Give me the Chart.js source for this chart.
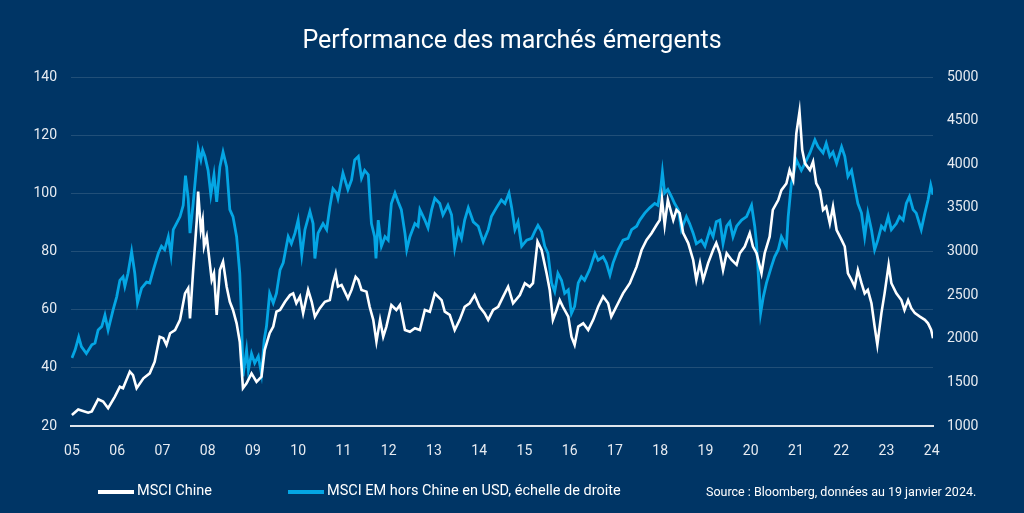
<!DOCTYPE html>
<html lang="fr">
<head>
<meta charset="utf-8">
<title>Performance des marchés émergents</title>
<script src="https://cdn.jsdelivr.net/npm/chart.js@4.4.1/dist/chart.umd.min.js"></script>
<style>
  html, body { margin: 0; padding: 0; background: #003565; }
  #wrap { position: relative; width: 1024px; height: 513px; overflow: hidden; font-family: Roboto, "Noto Sans", sans-serif; }
  #chart { position: absolute; left: 0; top: 0; }
  .title { position: absolute; left: 0; top: 24px; width: 1024px; text-align: center; color: #fff; font-size: 25px; line-height: 32px; font-weight: 400; }
  .legend { position: absolute; top: 482px; color: #fff; font-size: 14.5px; line-height: 18px; white-space: nowrap; }
  .swatch { position: absolute; top: 490px; height: 4px; width: 36px; }
  .source { position: absolute; top: 484px; left: 706px; color: #fff; font-size: 12.5px; line-height: 16px; white-space: nowrap; }
</style>
</head>
<body>
<div id="wrap">
  <canvas id="chart" width="1024" height="513"></canvas>
  <div class="title">Performance des marchés émergents</div>
  <div class="swatch" style="left:98px;background:#ffffff"></div>
  <div class="legend" style="left:137px">MSCI Chine</div>
  <div class="swatch" style="left:288px;background:#04a6e4"></div>
  <div class="legend" style="left:327px">MSCI EM hors Chine en USD, échelle de droite</div>
  <div class="source">Source : Bloomberg, données au 19 janvier 2024.</div>
</div>
<script>
// x ticks (years)
const yearTicks = [2005, 2006, 2007, 2008, 2009, 2010, 2011, 2012, 2013, 2014, 2015, 2016, 2017, 2018, 2019, 2020, 2021, 2022, 2023, 2024];

// MSCI Chine (left axis)
const chinaYears = [
  2005.00, 2005.14, 2005.36, 2005.44, 2005.58, 2005.69, 2005.80, 2005.95, 2006.06, 2006.13,
  2006.28, 2006.35, 2006.43, 2006.58, 2006.72, 2006.83, 2006.94, 2007.02, 2007.09, 2007.17,
  2007.28, 2007.39, 2007.50, 2007.57, 2007.61, 2007.68, 2007.76, 2007.79, 2007.85, 2007.89,
  2007.92, 2007.98, 2008.09, 2008.14, 2008.20, 2008.27, 2008.34, 2008.42, 2008.49, 2008.56,
  2008.64, 2008.71, 2008.78, 2008.86, 2008.97, 2009.08, 2009.19, 2009.26, 2009.37, 2009.45,
  2009.52, 2009.60, 2009.71, 2009.82, 2009.89, 2009.96, 2010.04, 2010.11, 2010.22, 2010.30,
  2010.37, 2010.48, 2010.59, 2010.70, 2010.77, 2010.83, 2010.88, 2010.96, 2011.03, 2011.10,
  2011.18, 2011.27, 2011.33, 2011.40, 2011.51, 2011.58, 2011.66, 2011.73, 2011.81, 2011.88,
  2011.95, 2012.06, 2012.17, 2012.25, 2012.36, 2012.47, 2012.58, 2012.69, 2012.80, 2012.91,
  2013.02, 2013.17, 2013.24, 2013.35, 2013.46, 2013.57, 2013.68, 2013.79, 2013.90, 2014.01,
  2014.12, 2014.20, 2014.31, 2014.42, 2014.53, 2014.64, 2014.75, 2014.90, 2015.01, 2015.12,
  2015.19, 2015.29, 2015.38, 2015.49, 2015.56, 2015.63, 2015.71, 2015.78, 2015.85, 2015.97,
  2016.04, 2016.11, 2016.19, 2016.30, 2016.41, 2016.52, 2016.63, 2016.74, 2016.85, 2016.92,
  2017.07, 2017.18, 2017.33, 2017.48, 2017.59, 2017.70, 2017.81, 2017.92, 2017.99, 2018.04,
  2018.10, 2018.17, 2018.29, 2018.36, 2018.43, 2018.51, 2018.62, 2018.73, 2018.80, 2018.88,
  2018.95, 2019.06, 2019.17, 2019.24, 2019.32, 2019.39, 2019.47, 2019.58, 2019.69, 2019.76,
  2019.87, 2019.98, 2020.05, 2020.13, 2020.24, 2020.31, 2020.42, 2020.49, 2020.61, 2020.68,
  2020.79, 2020.86, 2020.94, 2021.01, 2021.08, 2021.14, 2021.20, 2021.31, 2021.38, 2021.45,
  2021.53, 2021.60, 2021.67, 2021.75, 2021.82, 2021.90, 2022.01, 2022.08, 2022.15, 2022.23,
  2022.30, 2022.37, 2022.45, 2022.52, 2022.59, 2022.67, 2022.74, 2022.80, 2022.89, 2022.96,
  2023.05, 2023.11, 2023.22, 2023.33, 2023.40, 2023.48, 2023.55, 2023.63, 2023.74, 2023.85,
  2023.92, 2023.99, 2024.03
];
const chinaValues = [
  23.8, 25.7, 24.6, 25, 29.2, 28.4, 26.1, 30.1, 33.5, 33,
  38.7, 37.5, 33, 36.4, 38.1, 42.1, 50.7, 50.2, 47.9, 51.9,
  53, 56.5, 65.6, 67.4, 57, 73.6, 90.8, 100.6, 87.4, 90.8,
  81.7, 85.1, 70.2, 72.5, 58.2, 73.6, 76.5, 67.9, 62.7, 59.9,
  55.3, 49, 33, 34.7, 38.1, 35.2, 37, 46.1, 51.9, 54.2,
  59.3, 59.9, 62.7, 65, 65.6, 62.2, 64.5, 58.8, 66.8, 62.7,
  57.6, 60.5, 62.7, 63.3, 69.1, 72.5, 67.9, 68.5, 66.2, 63.9,
  66.8, 71.3, 70.2, 66.8, 66.2, 61, 56.5, 49, 56.5, 50.7,
  54.2, 61.6, 59.9, 61.6, 53, 52.4, 53.6, 53, 59.9, 59.3,
  65.6, 63.3, 59.3, 58.2, 53, 56.5, 61, 62.2, 65, 61,
  58.8, 56.5, 59.9, 61, 64.5, 67.9, 62.2, 65, 69.1, 67.9,
  69.1, 83.4, 80.5, 72.5, 66.8, 56.5, 59.9, 63.3, 61, 57.6,
  50.7, 47.9, 54.2, 55.3, 53, 56.5, 61, 64.5, 62.2, 57.6,
  62.2, 65.6, 69.1, 74.8, 80.5, 84, 86.3, 89.1, 90.8, 98,
  89.1, 97.7, 90.8, 94.3, 93.2, 86.3, 82.9, 77.1, 70.2, 76,
  70.2, 76, 80.5, 82.9, 79.4, 73.6, 79.4, 77.1, 75.4, 79.4,
  81.7, 86.3, 81.7, 79.4, 72.5, 79.4, 85.1, 94.3, 97.7, 101.1,
  103.4, 108, 104.6, 120.6, 128.1, 114.9, 110.3, 108, 110.9, 103.4,
  101.1, 94.3, 95.4, 89.7, 95.4, 87.4, 84, 81.7, 72.5, 70.2,
  67.9, 73.6, 69.1, 65.6, 66.8, 62.2, 54.2, 47.9, 58.8, 65.6,
  75.4, 69.1, 65.6, 63.3, 59.9, 63.3, 60.5, 58.8, 57.6, 56.5,
  55.3, 53, 50.2
];

// MSCI EM hors Chine en USD (right axis)
const emYears = [
  2005.00, 2005.07, 2005.15, 2005.21, 2005.32, 2005.44, 2005.51, 2005.58, 2005.66, 2005.73,
  2005.80, 2005.91, 2005.99, 2006.06, 2006.13, 2006.17, 2006.24, 2006.32, 2006.39, 2006.45,
  2006.54, 2006.65, 2006.72, 2006.80, 2006.91, 2006.98, 2007.05, 2007.13, 2007.19, 2007.24,
  2007.31, 2007.39, 2007.46, 2007.51, 2007.57, 2007.61, 2007.68, 2007.76, 2007.79, 2007.85,
  2007.89, 2007.94, 2008.01, 2008.07, 2008.14, 2008.20, 2008.27, 2008.34, 2008.42, 2008.49,
  2008.56, 2008.64, 2008.71, 2008.75, 2008.78, 2008.86, 2008.90, 2008.97, 2009.04, 2009.12,
  2009.19, 2009.25, 2009.30, 2009.37, 2009.45, 2009.52, 2009.60, 2009.67, 2009.71, 2009.78,
  2009.85, 2009.93, 2010.00, 2010.08, 2010.15, 2010.26, 2010.33, 2010.37, 2010.44, 2010.55,
  2010.63, 2010.70, 2010.77, 2010.85, 2010.88, 2010.99, 2011.10, 2011.18, 2011.25, 2011.33,
  2011.40, 2011.47, 2011.55, 2011.58, 2011.62, 2011.69, 2011.72, 2011.77, 2011.84, 2011.92,
  2011.99, 2012.06, 2012.14, 2012.21, 2012.28, 2012.36, 2012.40, 2012.47, 2012.58, 2012.65,
  2012.69, 2012.80, 2012.87, 2012.95, 2013.02, 2013.13, 2013.20, 2013.31, 2013.39, 2013.46,
  2013.54, 2013.61, 2013.68, 2013.76, 2013.87, 2013.98, 2014.09, 2014.20, 2014.27, 2014.38,
  2014.49, 2014.57, 2014.66, 2014.72, 2014.79, 2014.86, 2014.94, 2015.05, 2015.16, 2015.23,
  2015.30, 2015.38, 2015.45, 2015.52, 2015.60, 2015.67, 2015.74, 2015.82, 2015.89, 2015.97,
  2016.04, 2016.11, 2016.19, 2016.26, 2016.33, 2016.44, 2016.56, 2016.63, 2016.74, 2016.81,
  2016.89, 2016.96, 2017.07, 2017.18, 2017.29, 2017.37, 2017.48, 2017.55, 2017.66, 2017.77,
  2017.88, 2017.95, 2018.01, 2018.05, 2018.10, 2018.17, 2018.25, 2018.32, 2018.40, 2018.47,
  2018.58, 2018.65, 2018.73, 2018.80, 2018.91, 2018.99, 2019.10, 2019.17, 2019.24, 2019.32,
  2019.39, 2019.47, 2019.54, 2019.61, 2019.69, 2019.80, 2019.91, 2020.02, 2020.09, 2020.13,
  2020.18, 2020.22, 2020.28, 2020.35, 2020.46, 2020.53, 2020.61, 2020.68, 2020.79, 2020.83,
  2020.90, 2020.94, 2021.01, 2021.12, 2021.20, 2021.31, 2021.42, 2021.49, 2021.60, 2021.67,
  2021.75, 2021.82, 2021.90, 2022.01, 2022.08, 2022.15, 2022.23, 2022.30, 2022.37, 2022.45,
  2022.52, 2022.59, 2022.67, 2022.74, 2022.81, 2022.89, 2022.96, 2023.04, 2023.11, 2023.22,
  2023.29, 2023.37, 2023.44, 2023.51, 2023.59, 2023.66, 2023.77, 2023.85, 2023.92, 2023.98,
  2024.03
];
const emValues = [
  1780, 1870, 2020, 1910, 1830, 1930, 1950, 2100, 2140, 2270,
  2100, 2330, 2480, 2670, 2710, 2600, 2750, 3000, 2750, 2410,
  2580, 2650, 2640, 2790, 2980, 3060, 3020, 3170, 2960, 3250,
  3320, 3400, 3530, 3870, 3610, 3210, 3550, 4010, 4180, 4050,
  4160, 4090, 3930, 3650, 3880, 3570, 3970, 4140, 3970, 3480,
  3400, 3170, 2750, 2220, 1570, 1870, 1640, 1830, 1720, 1800,
  1600, 1990, 2140, 2520, 2410, 2520, 2790, 2870, 2980, 3170,
  3090, 3210, 3360, 2960, 3250, 3460, 3320, 2920, 3210, 3320,
  3250, 3510, 3720, 3670, 3610, 3900, 3710, 3820, 4050, 4090,
  3840, 3930, 3880, 3630, 3320, 3170, 2920, 3360, 3060, 3170,
  3130, 3550, 3670, 3570, 3480, 3210, 3020, 3170, 3320, 3290,
  3480, 3360, 3270, 3480, 3610, 3550, 3420, 3530, 3420, 3040,
  3250, 3150, 3360, 3500, 3340, 3290, 3110, 3250, 3400, 3500,
  3590, 3550, 3670, 3500, 3250, 3340, 3060, 3130, 3150, 3230,
  3300, 3230, 3060, 2980, 2640, 2540, 2750, 2670, 2520, 2560,
  2290, 2370, 2640, 2710, 2670, 2790, 2980, 2900, 2940, 2870,
  2730, 2870, 3020, 3130, 3150, 3250, 3290, 3360, 3440, 3500,
  3550, 3530, 3710, 3910, 3670, 3710, 3630, 3550, 3480, 3250,
  3400, 3320, 3210, 3090, 3130, 3060, 3250, 3170, 3340, 3360,
  3090, 3290, 3340, 3170, 3290, 3360, 3400, 3530, 3290, 3090,
  2640, 2290, 2480, 2640, 2830, 2940, 3020, 3170, 3060, 3400,
  3780, 3860, 4050, 3930, 4010, 4130, 4280, 4200, 4130, 4240,
  4090, 4140, 4010, 4200, 4090, 3860, 3930, 3740, 3550, 3440,
  3170, 3440, 3250, 3020, 3130, 3290, 3250, 3400, 3250, 3320,
  3400, 3360, 3550, 3630, 3480, 3440, 3250, 3440, 3590, 3760,
  3650
];

const tickColor = '#e6ebf1';
const tickFont = { family: 'Roboto, "Noto Sans", sans-serif', size: 14 };

const ctx = document.getElementById('chart').getContext('2d');
new Chart(ctx, {
  type: 'line',
  data: {
    datasets: [
      {
        label: 'MSCI Chine',
        data: chinaYears.map((x, i) => ({ x, y: chinaValues[i] })),
        yAxisID: 'yL',
        borderColor: '#ffffff',
        borderWidth: 2.6,
        pointRadius: 0,
        tension: 0
      },
      {
        label: 'MSCI EM hors Chine en USD, échelle de droite',
        data: emYears.map((x, i) => ({ x, y: emValues[i] })),
        yAxisID: 'yR',
        borderColor: '#04a6e4',
        borderWidth: 2.8,
        pointRadius: 0,
        tension: 0
      }
    ]
  },
  options: {
    responsive: false,
    animation: false,
    layout: { padding: { top: 77, left: 0, right: 0, bottom: 0 } },
    plugins: {
      legend: { display: false },
      tooltip: { enabled: false }
    },
    scales: {
      x: {
        type: 'linear',
        min: 2004.98,
        max: 2024.03,
        afterBuildTicks: (s) => { s.ticks = yearTicks.map(v => ({ value: v })); },
        afterFit: (s) => { s.height = 87; },
        grid: { display: false },
        border: { display: true, color: '#dfe5ec', width: 2 },
        ticks: {
          color: tickColor,
          font: tickFont,
          padding: 9,
          maxRotation: 0,
          autoSkip: false,
          callback: (v) => String(v).slice(2)
        }
      },
      yL: {
        position: 'left',
        min: 20,
        max: 140,
        afterFit: (s) => { s.width = 71; },
        grid: { color: 'rgba(255,255,255,0.13)', lineWidth: 1, drawTicks: false },
        border: { display: false },
        ticks: { stepSize: 20, color: tickColor, font: tickFont, padding: 14, callback: (v) => String(v) }
      },
      yR: {
        position: 'right',
        min: 1000,
        max: 5000,
        afterFit: (s) => { s.width = 91; },
        grid: { display: false, drawTicks: false },
        border: { display: false },
        ticks: { stepSize: 500, color: tickColor, font: tickFont, padding: 14, callback: (v) => String(v) }
      }
    }
  }
});
</script>
</body>
</html>
